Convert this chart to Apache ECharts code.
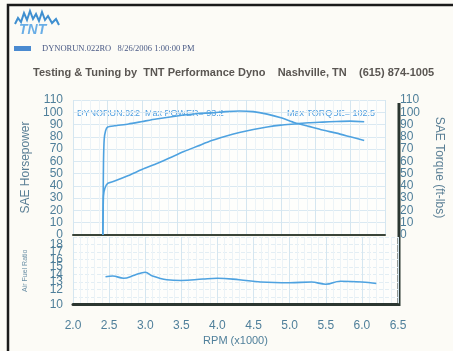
<!DOCTYPE html>
<html><head><meta charset="utf-8">
<script src="https://cdn.jsdelivr.net/npm/echarts@6/dist/echarts.min.js"></script>
<style>html,body{margin:0;padding:0;background:#fcfbf6}#c{width:453px;height:351px}</style>
</head><body><div id="c"></div>
<script>
const xTicks = [2.0, 2.5, 3.0, 3.5, 4.0, 4.5, 5.0, 5.5, 6.0, 6.5];
const rpmTorque = [2.43, 2.435, 2.44, 2.45, 2.47, 2.5, 2.6, 2.8, 3.0, 3.2, 3.5, 3.8, 4.0, 4.2, 4.4, 4.6, 4.8, 5.0, 5.2, 5.4, 5.6, 5.8, 6.0, 6.2];
const torque    = [0, 30, 60, 78, 85, 88, 89, 90.5, 92.5, 94.5, 97, 99, 99.5, 100.5, 101, 100.5, 98.5, 95.5, 91.5, 88.5, 85.5, 83, 80, 77];
const rpmPower  = [2.43, 2.435, 2.44, 2.46, 2.5, 2.6, 2.8, 3.0, 3.2, 3.4, 3.6, 3.8, 4.0, 4.2, 4.4, 4.6, 4.8, 5.0, 5.2, 5.4, 5.6, 5.8, 6.0, 6.2];
const power     = [0, 20, 32, 38, 42, 44, 48.5, 53.5, 58, 63, 68, 72.5, 77, 80.5, 83.5, 86, 88, 89.5, 90.5, 91.5, 92, 92.5, 92.8, 92.3];
const rpmAfr    = [2.45, 2.55, 2.7, 2.85, 3.0, 3.1, 3.3, 3.5, 3.8, 4.0, 4.3, 4.6, 5.0, 5.3, 5.5, 5.7, 6.0, 6.2];
const afr       = [13.7, 13.8, 13.5, 13.9, 14.3, 13.8, 13.3, 13.2, 13.4, 13.5, 13.3, 13.0, 12.9, 13.0, 12.7, 13.1, 13.0, 12.8];

const pair = (xs, ys) => xs.map((x, i) => [x, ys[i]]);
const lblColor = '#4f7f9a';
const curve = '#4ea2e0';
const font = 'Liberation Sans, Arial, sans-serif';

const chart = echarts.init(document.getElementById('c'), null, {renderer: 'canvas'});
chart.setOption({
  backgroundColor: '#fcfbf6',
  animation: false,
  grid: [
    {left: 73, right: 55, top: 100, height: 135, show: true, backgroundColor: '#fefefc', borderWidth: 0},
    {left: 73, right: 55, top: 237, height: 67.5, show: true, backgroundColor: '#fefefc', borderWidth: 0}
  ],
  xAxis: [
    {gridIndex: 0, type: 'value', min: 2.0, max: 6.5, interval: 0.5,
     axisLine: {show: true, onZero: false, lineStyle: {color: '#3a4438', width: 2}},
     axisTick: {show: false}, axisLabel: {show: false},
     splitLine: {show: true, lineStyle: {color: '#d5e6f0', width: 1}},
     minorTick: {show: false, splitNumber: 4},
     minorSplitLine: {show: true, lineStyle: {color: '#ecf3f7', width: 1}}},
    {gridIndex: 1, type: 'value', min: 2.0, max: 6.5, interval: 0.5,
     axisLine: {show: true, onZero: false, lineStyle: {color: '#2b3630', width: 3}},
     axisTick: {show: false},
     axisLabel: {show: true, color: lblColor, fontFamily: font, fontSize: 12, margin: 15,
       formatter: v => v.toFixed(1)},
     name: 'RPM (x1000)', nameLocation: 'middle', nameGap: 31,
     nameTextStyle: {color: lblColor, fontFamily: font, fontSize: 11},
     splitLine: {show: true, lineStyle: {color: '#d5e6f0', width: 1}},
     minorSplitLine: {show: true, lineStyle: {color: '#ecf3f7', width: 1}}}
  ],
  yAxis: [
    {gridIndex: 0, type: 'value', min: 0, max: 110, interval: 10, position: 'left',
     axisLine: {show: false}, axisTick: {show: false},
     axisLabel: {color: lblColor, fontFamily: font, fontSize: 12, margin: 10},
     name: 'SAE Horsepower', nameLocation: 'middle', nameGap: 38, nameRotate: 90,
     nameTextStyle: {color: '#5a7f95', fontFamily: font, fontSize: 12},
     splitLine: {show: true, lineStyle: {color: '#dae9f2', width: 1}}},
    {gridIndex: 0, type: 'value', min: 0, max: 110, interval: 10, position: 'right',
     axisLine: {show: false}, axisTick: {show: false},
     axisLabel: {color: lblColor, fontFamily: font, fontSize: 12, margin: 15},
     name: 'SAE Torque (ft-lbs)', nameLocation: 'middle', nameGap: 48, nameRotate: -90,
     nameTextStyle: {color: '#5a7f95', fontFamily: font, fontSize: 12},
     splitLine: {show: false}},
    {gridIndex: 1, type: 'value', min: 10, max: 19, interval: 1, position: 'left',
     axisLine: {show: false}, axisTick: {show: false},
     axisLabel: {color: lblColor, fontFamily: font, fontSize: 12, margin: 10,
       showMinLabel: true, hideOverlap: false,
       formatter: v => v > 18 ? '' : String(v)},
     name: 'Air Fuel Ratio', nameLocation: 'middle', nameGap: 44, nameRotate: 90,
     nameTextStyle: {color: '#6a8fa5', fontFamily: font, fontSize: 7},
     splitLine: {show: true, lineStyle: {color: '#e3eef4', width: 1, type: 'dashed'}}}
  ],
  series: [
    {type: 'line', xAxisIndex: 0, yAxisIndex: 1, data: pair(rpmTorque, torque), showSymbol: false,
     smooth: 0.2, lineStyle: {color: curve, width: 1.6}},
    {type: 'line', xAxisIndex: 0, yAxisIndex: 0, data: pair(rpmPower, power), showSymbol: false,
     smooth: 0.2, lineStyle: {color: curve, width: 1.6}},
    {type: 'line', xAxisIndex: 1, yAxisIndex: 2, data: pair(rpmAfr, afr), showSymbol: false,
     smooth: 0.4, lineStyle: {color: curve, width: 1.6}}
  ],
  graphic: [
    {type: 'rect', shape: {x: 8, y: 5, width: 470, height: 380},
     style: {fill: 'none', stroke: '#1a1a1a', lineWidth: 2.5}},
    {type: 'polyline', shape: {points: [[15,24],[18,18],[21,22],[24,13],[27,20],[30,11],[33,19],[36,14],[39,21],[42,12],[45,20],[48,16],[52,23],[56,19],[59,25]]},
     style: {stroke: '#3f8fd0', lineWidth: 2, fill: 'none'}},
    {type: 'text', x: 19, y: 23, style: {text: 'TNT', fill: '#6aaee6', font: 'italic bold 14px ' + font}},
    {type: 'rect', shape: {x: 14, y: 46, width: 17, height: 5}, style: {fill: '#4a8ad0'}},
    {type: 'text', x: 42, y: 44, style: {text: 'DYNORUN.022RO   8/26/2006 1:00:00 PM', fill: '#4a5a85', font: '8.5px Liberation Serif, serif'}},
    {type: 'text', x: 33, y: 67, style: {text: 'Testing & Tuning by  TNT Performance Dyno    Nashville, TN    (615) 874-1005', fill: '#5a5652', font: 'bold 11px ' + font}},
    {type: 'text', x: 77, y: 109, style: {text: 'DYNORUN.022  Max POWER= 93.2', fill: '#4e9ee0', font: '9px ' + font}},
    {type: 'text', x: 287, y: 109, style: {text: 'Max TORQUE= 102.5', fill: '#4e9ee0', font: '9px ' + font}},
    {type: 'line', shape: {x1: 399, y1: 103, x2: 399, y2: 306}, style: {stroke: '#2b3630', lineWidth: 3}}
  ]
});
</script></body></html>
